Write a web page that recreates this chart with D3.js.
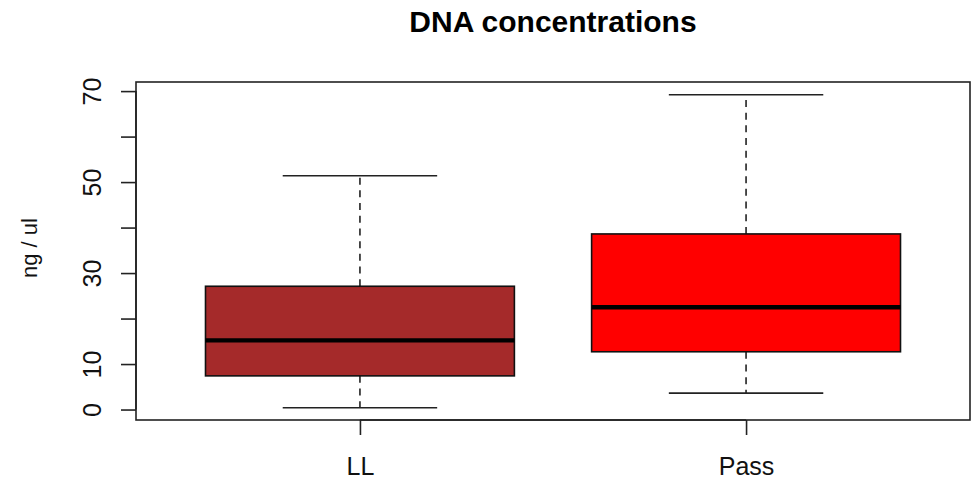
<!DOCTYPE html>
<html>
<head>
<meta charset="utf-8">
<script src="https://cdn.jsdelivr.net/npm/d3@7"></script>
<style>
  html, body { margin: 0; padding: 0; background: #fff; }
  svg { display: block; font-family: "Liberation Sans", Arial, sans-serif; }
</style>
</head>
<body>
<svg id="chart" width="979" height="480"></svg>
<script>
// Five-number summaries per group (ng / ul)
const categories   = ["LL", "Pass"];
const lowWhisker   = [0.4, 3.6];
const q1           = [7.4, 12.7];
const median       = [15.2, 22.5];
const q3           = [27.1, 38.6];
const highWhisker  = [51.4, 69.2];
const fills        = ["#A52A2A", "#FF0000"];
const yTicks       = [0, 10, 20, 30, 40, 50, 60, 70];
const yTickLabels  = [0, 10, 30, 50, 70];

const svg = d3.select("#chart");
const plot = { left: 136, right: 970, top: 82, bottom: 420 };

const x = d3.scaleLinear().domain([0.42, 2.58]).range([plot.left, plot.right]);
const y = d3.scaleLinear().domain([-2.3, 72]).range([plot.bottom, plot.top]);

const boxHalf = 0.4, capHalf = 0.2;
const groups = categories.map((c, i) => ({
  name: c, pos: i + 1, lo: lowWhisker[i], q1: q1[i], med: median[i],
  q3: q3[i], hi: highWhisker[i], fill: fills[i]
}));

const g = svg.append("g");

// whiskers (dashed) from box to caps
g.selectAll("line.whiskerUp").data(groups).join("line")
  .attr("x1", d => x(d.pos)).attr("x2", d => x(d.pos))
  .attr("y1", d => y(d.q3)).attr("y2", d => y(d.hi))
  .attr("stroke", "#222").attr("stroke-width", 1.6)
  .attr("stroke-dasharray", "7,5.7");
g.selectAll("line.whiskerDown").data(groups).join("line")
  .attr("x1", d => x(d.pos)).attr("x2", d => x(d.pos))
  .attr("y1", d => y(d.q1)).attr("y2", d => y(d.lo))
  .attr("stroke", "#222").attr("stroke-width", 1.6)
  .attr("stroke-dasharray", "7,5.7");

// staples
["hi", "lo"].forEach(k => {
  g.selectAll("line.cap-" + k).data(groups).join("line")
    .attr("x1", d => x(d.pos - capHalf)).attr("x2", d => x(d.pos + capHalf))
    .attr("y1", d => y(d[k])).attr("y2", d => y(d[k]))
    .attr("stroke", "#222").attr("stroke-width", 1.6);
});

// boxes
g.selectAll("rect.box").data(groups).join("rect")
  .attr("x", d => x(d.pos - boxHalf))
  .attr("width", d => x(d.pos + boxHalf) - x(d.pos - boxHalf))
  .attr("y", d => y(d.q3))
  .attr("height", d => y(d.q1) - y(d.q3))
  .attr("fill", d => d.fill)
  .attr("stroke", "#111").attr("stroke-width", 1.6);

// medians
g.selectAll("line.median").data(groups).join("line")
  .attr("x1", d => x(d.pos - boxHalf)).attr("x2", d => x(d.pos + boxHalf))
  .attr("y1", d => y(d.med)).attr("y2", d => y(d.med))
  .attr("stroke", "#000").attr("stroke-width", 4.4);

// plot frame
svg.append("rect")
  .attr("x", plot.left).attr("y", plot.top)
  .attr("width", plot.right - plot.left).attr("height", plot.bottom - plot.top)
  .attr("fill", "none").attr("stroke", "#222").attr("stroke-width", 1.6);

// y axis
const yAxis = d3.axisLeft(y).tickValues(yTicks).tickSize(15).tickPadding(0)
  .tickFormat(d => yTickLabels.includes(d) ? d : "");
const ya = svg.append("g").attr("transform", `translate(${plot.left},0)`).call(yAxis);
ya.select(".domain").attr("d", `M0,${y(0)}V${y(70)}`).attr("stroke", "#222").attr("stroke-width", 1.6);
ya.selectAll(".tick line").attr("stroke", "#222").attr("stroke-width", 1.6);
ya.selectAll(".tick text")
  .attr("font-size", 25).attr("fill", "#111")
  .attr("transform", "rotate(-90)")
  .attr("x", 0).attr("y", -35).attr("dy", 0)
  .attr("text-anchor", "middle");
ya.attr("font-family", null);

// x axis
const xAxis = d3.axisBottom(x).tickValues(groups.map(d => d.pos)).tickSize(15).tickPadding(0)
  .tickFormat((d, i) => categories[i]);
const xa = svg.append("g").attr("transform", `translate(0,${plot.bottom})`).call(xAxis);
xa.select(".domain").attr("d", `M${x(1)},0H${x(2)}`).attr("stroke", "#222").attr("stroke-width", 1.6);
xa.selectAll(".tick line").attr("stroke", "#222").attr("stroke-width", 1.6);
xa.selectAll(".tick text").attr("font-size", 25).attr("fill", "#111")
  .attr("y", 55).attr("dy", 0);
xa.attr("font-family", null);

// y label
svg.append("text")
  .attr("transform", `translate(37,${(plot.top + plot.bottom) / 2 - 3}) rotate(-90)`)
  .attr("text-anchor", "middle").attr("font-size", 22).attr("fill", "#111")
  .text("ng / ul");

// title
svg.append("text")
  .attr("x", (plot.left + plot.right) / 2).attr("y", 32)
  .attr("text-anchor", "middle").attr("font-size", 30).attr("font-weight", "bold")
  .attr("fill", "#000")
  .text("DNA concentrations");
</script>
</body>
</html>
